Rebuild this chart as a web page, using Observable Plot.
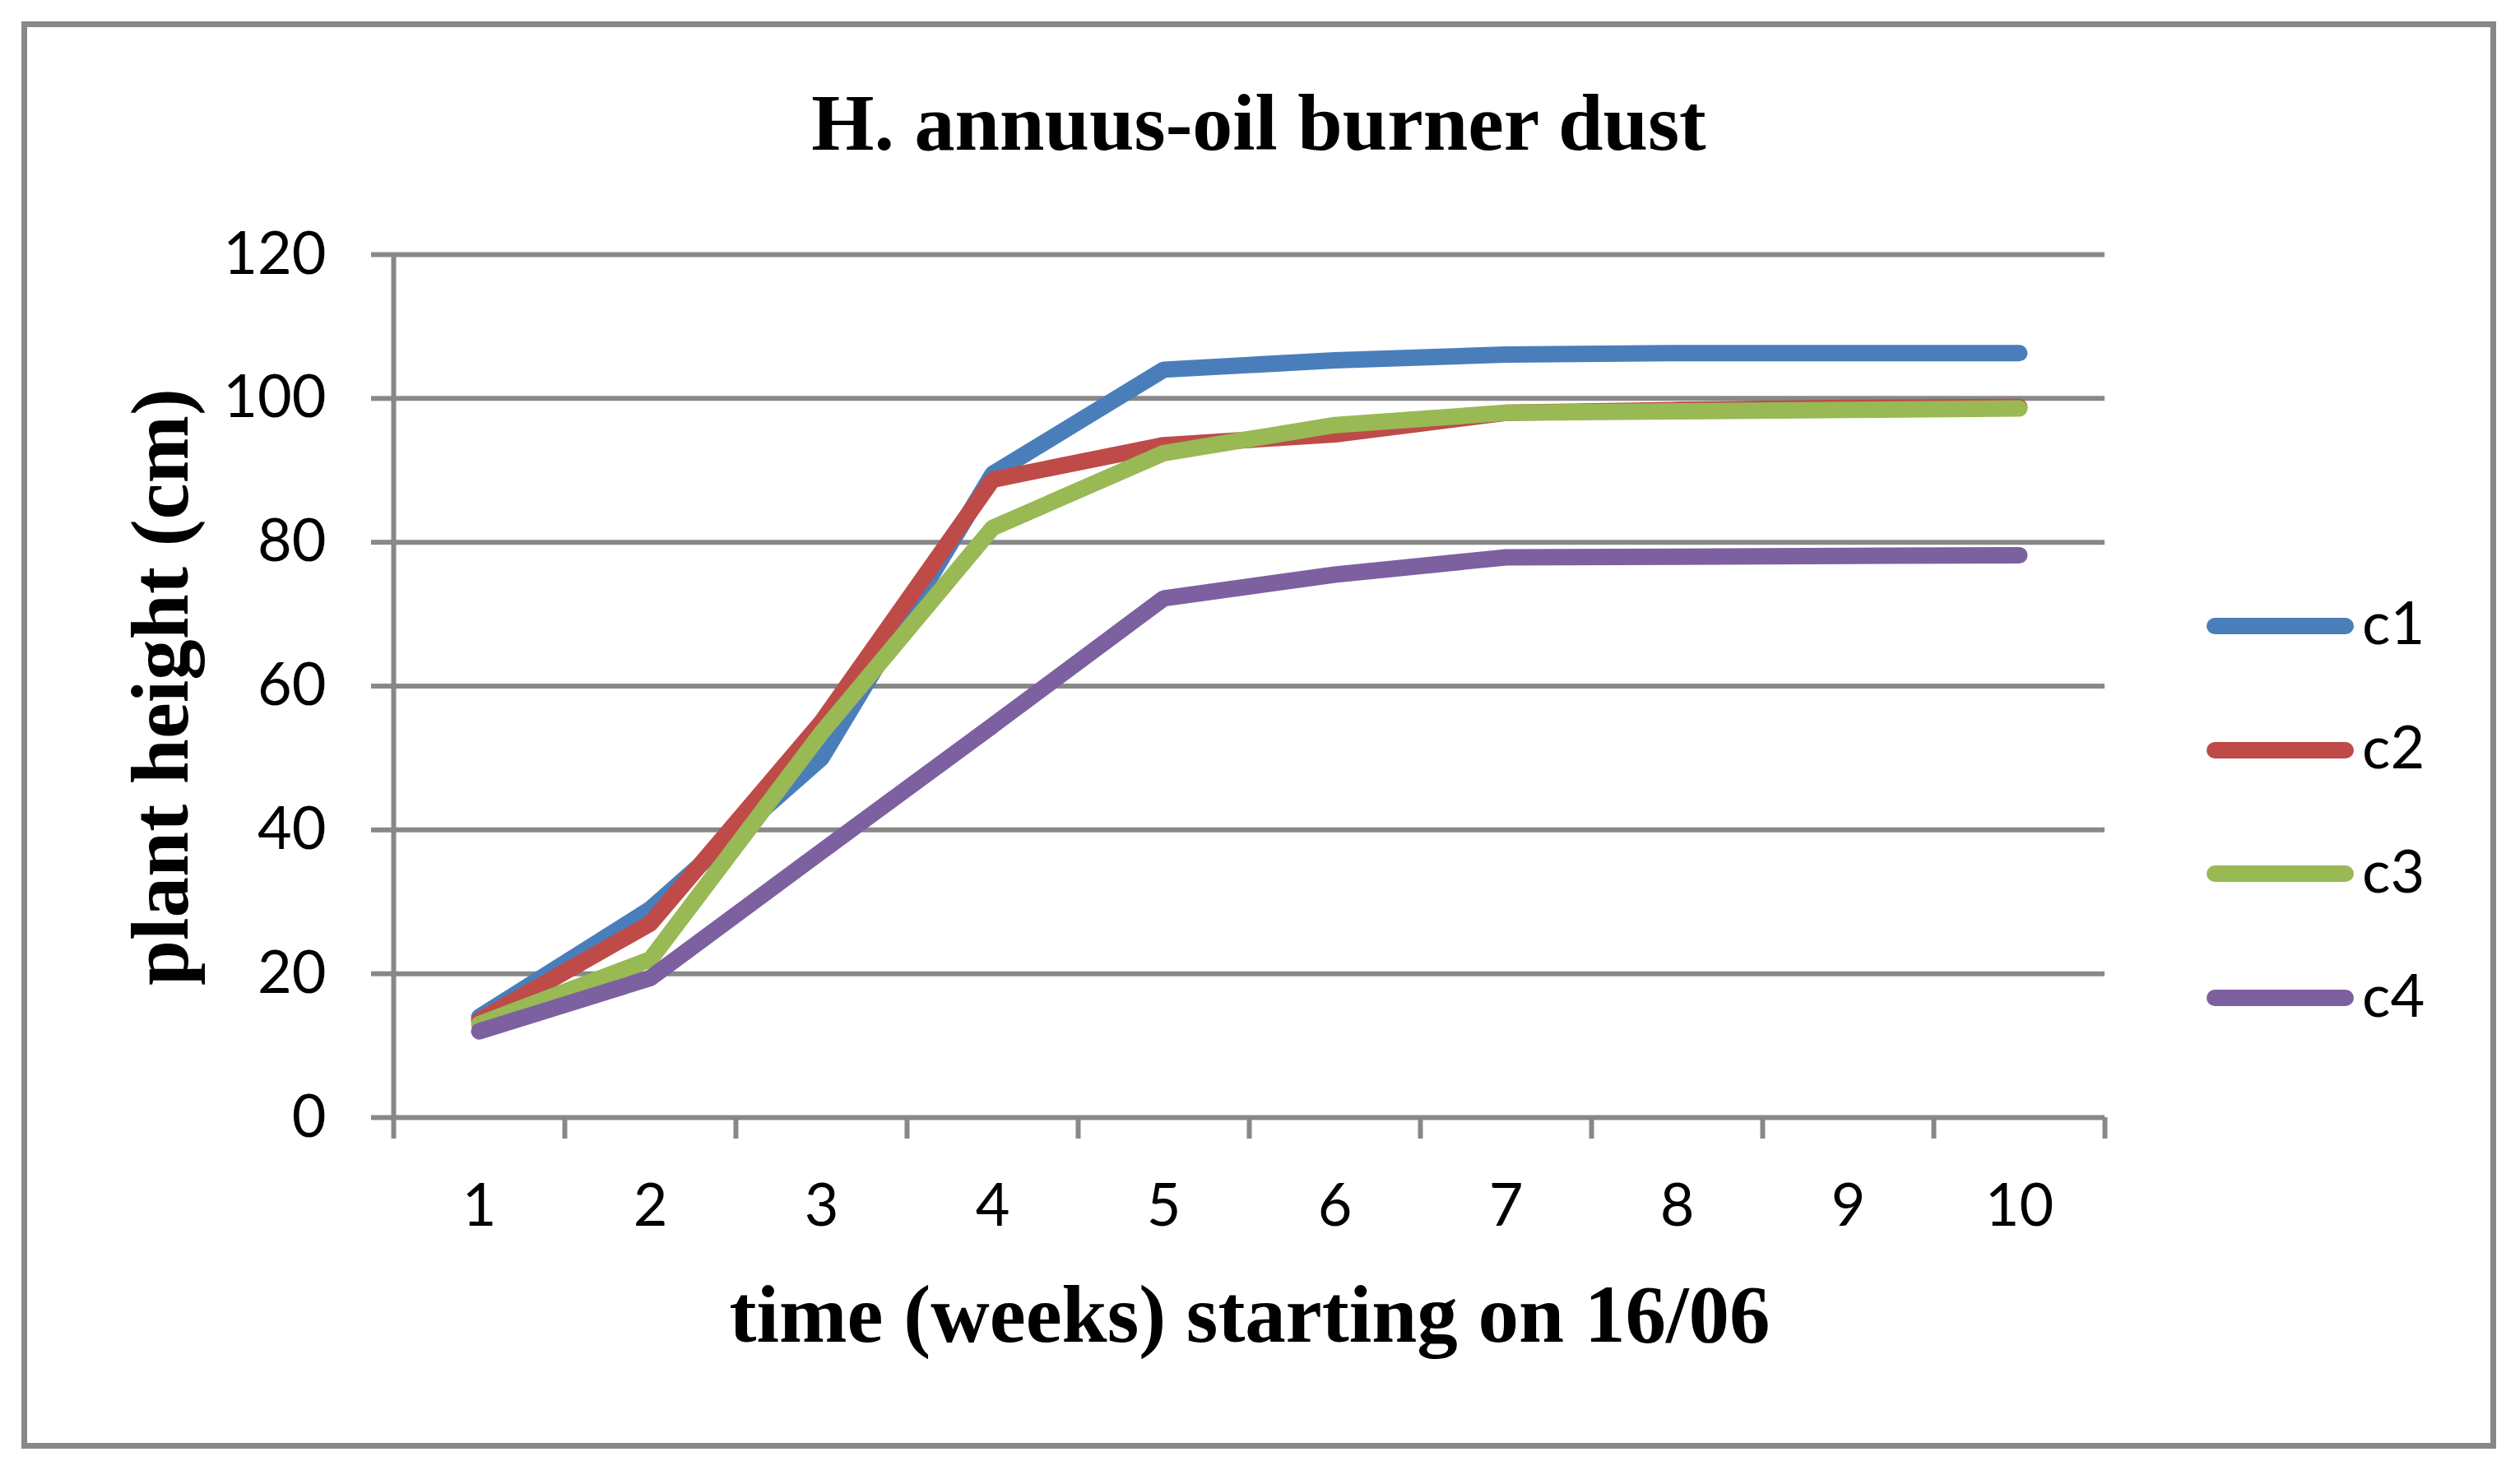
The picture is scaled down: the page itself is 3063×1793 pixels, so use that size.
<!DOCTYPE html>
<html>
<head>
<meta charset="utf-8">
<script src="https://cdn.jsdelivr.net/npm/d3@7"></script>
<script src="https://cdn.jsdelivr.net/npm/@observablehq/plot@0.6"></script>
<style>
  html, body { margin: 0; padding: 0; background: #ffffff; }
  #chart { position: relative; width: 3063px; height: 1793px; overflow: hidden; background: #ffffff; }
  #frame { position: absolute; left: 26px; top: 26px; width: 3008px; height: 1735px; box-sizing: border-box; border: 7px solid #888888; pointer-events: none; }
  .ttl { position: absolute; font-family: "Liberation Serif", "Times New Roman", serif; font-weight: bold; color: #000; white-space: nowrap; line-height: 1; }
  #title { left: 1530px; top: 100px; font-size: 98px; transform: translateX(-50%); }
  #xtitle { left: 1519px; top: 1548px; font-size: 99px; transform: translateX(-50%); }
  #ytitle { left: 194px; top: 835px; font-size: 99px; transform: translate(-50%, -50%) rotate(-90deg); }
  .leg-line { position: absolute; left: 2682px; width: 179px; height: 20px; border-radius: 10px; }
  .leg-text { position: absolute; left: 2871px; font-family: Lato, "Open Sans", sans-serif; font-size: 72px; line-height: 1; color: #000; white-space: nowrap; }
  #plot { position: absolute; left: 0; top: 0; }
</style>
</head>
<body>
<div id="chart">
  <div id="plot"></div>
  <div id="frame"></div>
</div>
<script>
// ---- data ----
const weeks = [1, 2, 3, 4, 5, 6, 7, 8, 9, 10];
const seriesNames = ["c1", "c2", "c3", "c4"];
const seriesColors = ["#4a7ebb", "#be4b48", "#98b954", "#7d60a0"];
const c1 = [14, 29, 50, 89.5, 104, 105.3, 106.1, 106.3, 106.3, 106.3];
const c2 = [13.5, 27, 55, 88.7, 93.5, 95, 98, 98.4, 98.7, 98.8];
const c3 = [13, 22, 53.5, 82, 92.4, 96.3, 98, 98.2, 98.4, 98.6];
const c4 = [12, 19.4, 37, 54.5, 72.2, 75.5, 77.9, 78, 78.1, 78.2];
const yTicks = [0, 20, 40, 60, 80, 100, 120];
const titleText = "H. annuus-oil burner dust";
const xTitleText = "time (weeks) starting on 16/06";
const yTitleText = "plant height (cm)";

// long table built from the arrays
const seriesValues = [c1, c2, c3, c4];
const table = [];
seriesNames.forEach((name, i) => {
  weeks.forEach((w, j) => table.push({ series: name, week: w, value: seriesValues[i][j] }));
});
// category boundaries (Excel-style ticks between categories)
const boundaries = [...weeks.map(w => w - 0.5), weeks[weeks.length - 1] + 0.5];

const grey = "#888888";

const plot = Plot.plot({
  width: 3063,
  height: 1793,
  marginLeft: 478,
  marginRight: 505,
  marginTop: 309,
  marginBottom: 435,
  style: { fontFamily: "Lato, 'Open Sans', sans-serif", fontSize: "72px", background: "transparent", color: "#000" },
  x: { type: "linear", domain: [boundaries[0], boundaries[boundaries.length - 1]] },
  y: { domain: [0, 120] },
  color: { domain: seriesNames, range: seriesColors },
  marks: [
    Plot.gridY(yTicks, { stroke: grey, strokeOpacity: 1, strokeWidth: 6 }),
    Plot.ruleX([boundaries[0]], { stroke: grey, strokeWidth: 6 }),
    Plot.axisY(yTicks, {
      tickSize: 27, tickPadding: 55, stroke: grey, strokeWidth: 6, fill: "#000",
      fontSize: 72, label: null, tickFormat: d => String(d)
    }),
    Plot.axisX(boundaries, {
      tickSize: 26, stroke: grey, strokeWidth: 6, tickFormat: () => "", label: null
    }),
    Plot.axisX(weeks, {
      tickSize: 0, tickPadding: 80, fill: "#000", fontSize: 72, label: null, tickFormat: d => String(d)
    }),
    Plot.line(table, {
      x: "week", y: "value", z: "series", stroke: "series",
      strokeWidth: 20, strokeLinecap: "round", strokeLinejoin: "miter"
    })
  ]
});
document.getElementById("plot").appendChild(plot);

// titles (real text)
const chart = document.getElementById("chart");
function addText(id, cls, text) {
  const d = document.createElement("div");
  d.id = id; d.className = cls; d.textContent = text;
  chart.appendChild(d);
}
addText("title", "ttl", titleText);
addText("xtitle", "ttl", xTitleText);
addText("ytitle", "ttl", yTitleText);

// legend
const legY0 = 760.8, legStep = 150.8;
seriesNames.forEach((name, i) => {
  const cy = legY0 + legStep * i;
  const ln = document.createElement("div");
  ln.className = "leg-line";
  ln.style.top = (cy - 10) + "px";
  ln.style.background = seriesColors[i];
  chart.appendChild(ln);
  const t = document.createElement("div");
  t.className = "leg-text";
  t.style.top = (cy - 41.5) + "px";
  t.textContent = name;
  chart.appendChild(t);
});
</script>
</body>
</html>
